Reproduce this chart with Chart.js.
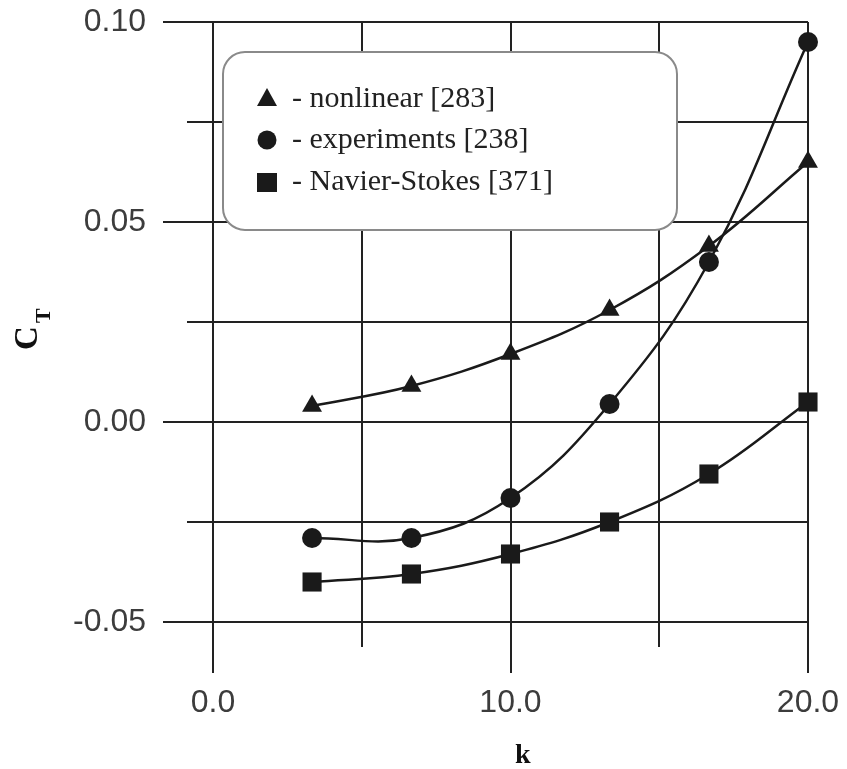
<!DOCTYPE html>
<html>
<head>
<meta charset="utf-8">
<script src="https://cdn.jsdelivr.net/npm/chart.js@4/dist/chart.umd.min.js"></script>
<style>
  html, body { margin: 0; padding: 0; background: #fff; }
  #wrap { width: 847px; height: 769px; }
</style>
</head>
<body>
<div id="wrap"><canvas id="ct"></canvas></div>
<script>
// values
const kValues = [3.33, 6.67, 10, 13.33, 16.67, 20];
const nonlinear = [0.004, 0.009, 0.017, 0.028, 0.044, 0.065];
const experiments = [-0.029, -0.029, -0.019, 0.0045, 0.040, 0.095];
const navierStokes = [-0.040, -0.038, -0.033, -0.025, -0.013, 0.005];
const seriesLabels = ['- nonlinear [283]', '- experiments [238]', '- Navier-Stokes [371]'];
const xTickLabels = ['0.0', '10.0', '20.0'];
const yTickLabels = ['-0.05', '0.00', '0.05', '0.10'];

const ink = '#1a1a1a';

function toPoints(ys) {
    return kValues.map((k, i) => ({ x: k, y: ys[i] }));
}

function series(label, ys, style, radius) {
    return {
        label,
        data: toPoints(ys),
        showLine: true,
        borderColor: ink,
        borderWidth: 2.5,
        backgroundColor: ink,
        pointStyle: style,
        pointRadius: radius,
        pointHoverRadius: radius,
        pointBorderWidth: 0,
        tension: 0.4,
        clip: false
    };
}

function isMajor(v, step) {
    return Math.abs(v / step - Math.round(v / step)) < 1e-6;
}

// fixed axis sizes, no extra room for edge labels
function fixSize(prop, size) {
    return scale => {
        scale[prop] = size;
        scale.paddingTop = 0;
        scale.paddingBottom = 0;
        scale.paddingLeft = 0;
        scale.paddingRight = 0;
    };
}

// tick marks sticking out of the frame, the boxed legend and the axis titles
const decorations = {
    id: 'decorations',
    beforeDatasetsDraw(chart) {
        const ctx = chart.ctx;
        const { x, y } = chart.scales;
        const area = chart.chartArea;
        ctx.save();
        ctx.strokeStyle = '#222';
        ctx.lineWidth = 2;
        x.ticks.forEach(t => {
            const px = Math.round(x.getPixelForValue(t.value));
            const len = isMajor(t.value, 10) ? 51 : 25;
            ctx.beginPath();
            ctx.moveTo(px, area.bottom);
            ctx.lineTo(px, area.bottom + len);
            ctx.stroke();
        });
        y.ticks.forEach(t => {
            const py = Math.round(y.getPixelForValue(t.value));
            const len = isMajor(t.value, 0.05) ? 50 : 26;
            ctx.beginPath();
            ctx.moveTo(area.left, py);
            ctx.lineTo(area.left - len, py);
            ctx.stroke();
        });

        // legend box
        const bx = 223, by = 52, bw = 454, bh = 178, r = 22;
        ctx.beginPath();
        ctx.roundRect(bx, by, bw, bh, r);
        ctx.fillStyle = '#fff';
        ctx.fill();
        ctx.strokeStyle = '#8a8a8a';
        ctx.lineWidth = 2;
        ctx.stroke();

        const rows = [99, 140, 182];
        const mx = 267;
        chart.data.datasets.forEach((ds, i) => {
            const cy = rows[i];
            ctx.fillStyle = ink;
            ctx.beginPath();
            if (ds.pointStyle === 'triangle') {
                ctx.moveTo(mx, cy - 11);
                ctx.lineTo(mx + 10, cy + 7);
                ctx.lineTo(mx - 10, cy + 7);
                ctx.closePath();
            } else if (ds.pointStyle === 'circle') {
                ctx.arc(mx, cy, 9.5, 0, Math.PI * 2);
            } else {
                ctx.rect(mx - 10, cy - 9, 20, 19);
            }
            ctx.fill();
            ctx.font = '30px "Liberation Serif"';
            ctx.textBaseline = 'middle';
            ctx.textAlign = 'left';
            ctx.fillStyle = '#222';
            ctx.fillText(ds.label, 292, cy);
        });
        ctx.restore();
    },
    afterDraw(chart) {
        const ctx = chart.ctx;
        ctx.save();
        ctx.fillStyle = '#111';
        ctx.textBaseline = 'alphabetic';
        ctx.textAlign = 'left';
        // x title
        ctx.font = 'bold 28px "Liberation Serif"';
        ctx.fillText('k', 515, 763);
        // y title C_T, rotated
        ctx.translate(37, 350);
        ctx.rotate(-Math.PI / 2);
        ctx.font = 'bold 33px "Liberation Serif"';
        ctx.fillText('C', 0, 0);
        ctx.font = 'bold 22px "Liberation Serif"';
        ctx.fillText('T', 27, 13);
        ctx.restore();
    }
};

const tickFont = { family: '"Liberation Sans", Arial, sans-serif', size: 32 };

const config = {
    type: 'scatter',
    data: {
        datasets: [
            series(seriesLabels[0], nonlinear, 'triangle', 11.5),
            series(seriesLabels[1], experiments, 'circle', 10),
            series(seriesLabels[2], navierStokes, 'rect', 13.5)
        ]
    },
    options: {
        responsive: true,
        maintainAspectRatio: false,
        animation: false,
        layout: {
            padding: { left: 0, right: 39, top: 22, bottom: 0 }
        },
        plugins: {
            legend: { display: false },
            tooltip: { enabled: false }
        },
        scales: {
            x: {
                type: 'linear',
                min: 0,
                max: 20,
                afterFit: fixSize('height', 147),
                grid: { color: '#222', lineWidth: 2, drawTicks: false },
                border: { color: '#222', width: 2 },
                ticks: {
                    stepSize: 5,
                    padding: 62,
                    color: '#3c3c3c',
                    font: tickFont,
                    maxRotation: 0,
                    autoSkip: false,
                    callback: v => isMajor(v, 10) ? xTickLabels[Math.round(v / 10)] : ''
                }
            },
            y: {
                type: 'linear',
                min: -0.05,
                max: 0.1,
                afterFit: fixSize('width', 213),
                grid: { color: '#222', lineWidth: 2, drawTicks: false },
                border: { color: '#222', width: 2 },
                ticks: {
                    stepSize: 0.025,
                    padding: 67,
                    color: '#3c3c3c',
                    font: tickFont,
                    autoSkip: false,
                    callback: v => isMajor(v, 0.05) ? yTickLabels[Math.round(v / 0.05) + 1] : ''
                }
            }
        }
    },
    plugins: [decorations]
};

new Chart(document.getElementById('ct'), config);
</script>
</body>
</html>
